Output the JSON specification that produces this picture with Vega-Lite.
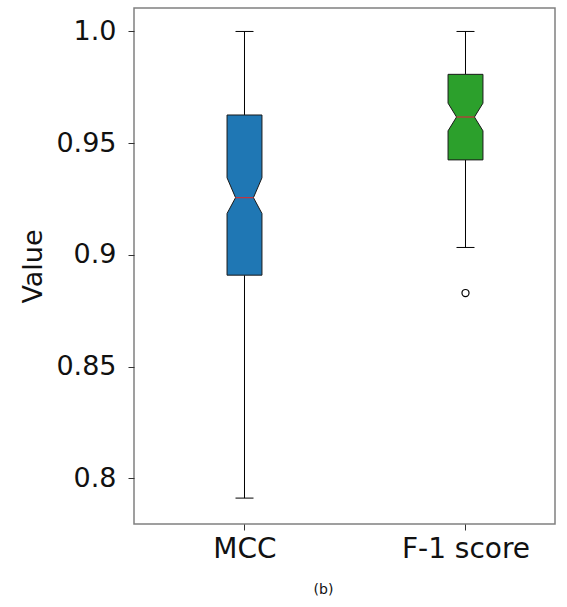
{
  "$schema": "https://vega.github.io/schema/vega-lite/v6.json",
  "autosize": {"type": "none"},
  "padding": {"left": 134, "top": 8, "right": 12, "bottom": 83},
  "width": 421,
  "height": 516,
  "background": "white",
  "config": {
    "view": {"stroke": "#808080", "strokeWidth": 1.5},
    "axis": {"grid": false, "domain": false, "labelFont": "DejaVu Sans", "titleFont": "DejaVu Sans", "labelColor": "#111", "titleColor": "#111", "tickColor": "#333", "tickSize": 6, "titleFontWeight": "normal"}
  },
  "datasets": {
    "stats": [
      {"cat": "MCC", "idx": 1, "lo": 0.7911, "q1": 0.8909, "nlo": 0.9185, "med": 0.9256, "nhi": 0.9345, "q3": 0.9626, "hi": 1.0},
      {"cat": "F-1 score", "idx": 2, "lo": 0.9033, "q1": 0.9425, "nlo": 0.9555, "med": 0.9617, "nhi": 0.9679, "q3": 0.9808, "hi": 1.0}
    ],
    "outliers": [
      {"cat": "F-1 score", "idx": 2, "value": 0.8829}
    ]
  },
  "encoding": {
    "x": {
      "field": "idx", "type": "quantitative",
      "scale": {"domain": [0.5, 2.405], "nice": false, "zero": false},
      "axis": {"values": [1, 2], "labelExpr": "datum.value == 1 ? 'MCC' : 'F-1 score'", "labelFontSize": 28, "labelPadding": 5, "title": "(b)", "titleFontSize": 14, "titlePadding": 19, "titleX": 189}
    }
  },
  "layer": [
    {
      "data": {"name": "stats"},
      "mark": {"type": "rule", "color": "#000", "strokeWidth": 1},
      "encoding": {
        "y": {"field": "lo", "type": "quantitative", "scale": {"domain": [0.7795, 1.0105], "nice": false, "zero": false},
              "axis": {"values": [0.8, 0.85, 0.9, 0.95, 1.0], "labelExpr": "datum.value == 1 ? '1.0' : format(datum.value, '~g')", "labelFontSize": 27, "labelPadding": 12, "title": "Value", "titleFontSize": 27, "titlePadding": 8}},
        "y2": {"field": "q1"}
      }
    },
    {
      "data": {"name": "stats"},
      "mark": {"type": "rule", "color": "#000", "strokeWidth": 1},
      "encoding": {
        "y": {"field": "q3", "type": "quantitative"},
        "y2": {"field": "hi"}
      }
    },
    {
      "data": {"name": "stats"},
      "mark": {"type": "tick", "orient": "horizontal", "color": "#000", "size": 18, "thickness": 1, "opacity": 1},
      "encoding": {"y": {"field": "lo", "type": "quantitative"}}
    },
    {
      "data": {"name": "stats"},
      "mark": {"type": "tick", "orient": "horizontal", "color": "#000", "size": 18, "thickness": 1, "opacity": 1},
      "encoding": {"y": {"field": "hi", "type": "quantitative"}}
    },
    {
      "data": {"name": "stats"},
      "transform": [
        {"fold": ["q1", "nlo", "med", "nhi", "q3"], "as": ["key", "v"]},
        {"calculate": "datum.key == 'med' ? 0.0405 : 0.079", "as": "hw"},
        {"calculate": "datum.idx - datum.hw", "as": "xl"},
        {"calculate": "datum.idx + datum.hw", "as": "xr"}
      ],
      "mark": {"type": "area", "orient": "horizontal", "stroke": "#1a1a1a", "strokeWidth": 1, "fillOpacity": 1, "interpolate": "linear"},
      "encoding": {
        "x": {"field": "xl", "type": "quantitative"},
        "x2": {"field": "xr"},
        "y": {"field": "v", "type": "quantitative"},
        "color": {"field": "cat", "type": "nominal", "scale": {"domain": ["MCC", "F-1 score"], "range": ["#1f77b4", "#2ca02c"]}, "legend": null}
      }
    },
    {
      "data": {"name": "stats"},
      "mark": {"type": "tick", "orient": "horizontal", "color": "#c8323c", "size": 18, "thickness": 1.2, "opacity": 1},
      "encoding": {"y": {"field": "med", "type": "quantitative"}}
    },
    {
      "data": {"name": "outliers"},
      "mark": {"type": "point", "shape": "circle", "filled": false, "stroke": "#000", "strokeWidth": 1.2, "size": 50, "opacity": 1},
      "encoding": {"y": {"field": "value", "type": "quantitative"}}
    }
  ]
}
